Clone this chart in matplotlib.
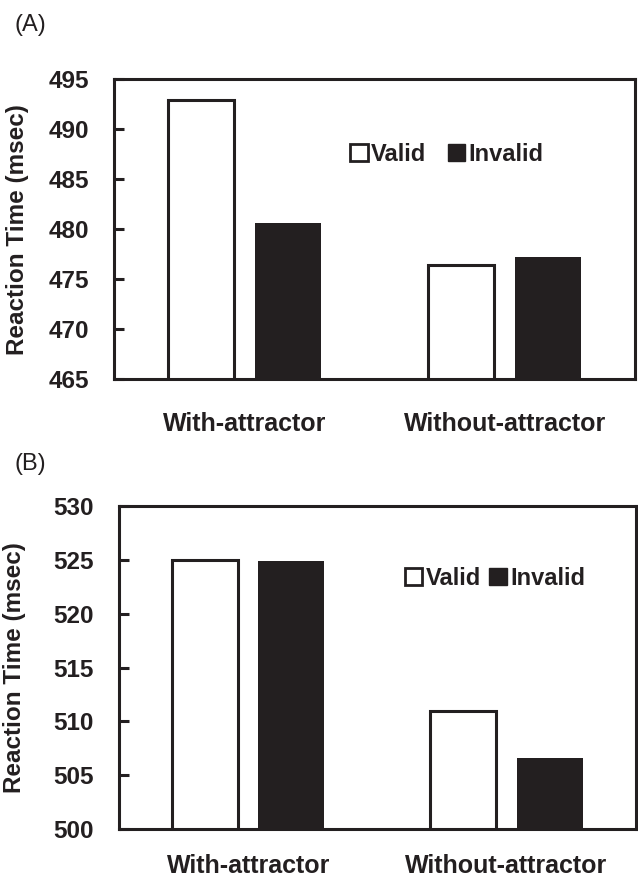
import matplotlib
matplotlib.use("Agg")
import matplotlib.pyplot as plt
import numpy as np
from matplotlib.patches import Patch

# data
condicoes = ["With-attractor", "Without-attractor"]
valid_a = [492.9, 476.4]
invalid_a = [480.6, 477.2]
valid_b = [525.0, 511.0]
invalid_b = [524.9, 506.6]
ticks_a = [465, 470, 475, 480, 485, 490, 495]
ticks_b = [500, 505, 510, 515, 520, 525, 530]

plt.rcParams["font.family"] = ["Liberation Sans", "DejaVu Sans"]
preto = "#231f20"

fig = plt.figure(figsize=(6.38, 8.77), dpi=100)


def painel(ax, valid, invalid, ticks, leg_pos, colsp, lab_x, xpad):
    x = np.arange(len(condicoes))
    w = 0.255
    ax.bar(x - 0.167, valid, w, color="white", edgecolor=preto, linewidth=2.2)
    ax.bar(x + 0.167, invalid, w, color=preto, edgecolor=preto, linewidth=0)
    ax.set_xlim(-0.5, 1.5)
    ax.set_ylim(ticks[0], ticks[-1])
    ax.set_yticks(ticks)
    ax.set_yticklabels([str(t) for t in ticks], fontsize=17.5, fontweight="bold", color=preto)
    ax.set_xticks(x)
    ax.set_xticklabels(condicoes, fontsize=18, fontweight="bold", color=preto)
    ax.tick_params(axis="x", length=0, pad=xpad)
    ax.tick_params(axis="y", direction="in", length=7, width=2.2, color=preto, pad=18)
    for s in ax.spines.values():
        s.set_linewidth(2.2)
        s.set_color(preto)
    ax.set_ylabel("Reaction Time (msec)", fontsize=17.5, fontweight="bold", color=preto)
    ax.yaxis.set_label_coords(lab_x, 0.5)
    handles = [Patch(facecolor="white", edgecolor=preto, linewidth=2.0),
               Patch(facecolor=preto, edgecolor=preto)]
    ax.legend(handles, ["Valid", "Invalid"], ncol=2, frameon=False,
              loc="center left", bbox_to_anchor=leg_pos, borderpad=0,
              handlelength=0.75, handleheight=0.75, handletextpad=0.15,
              columnspacing=colsp, prop={"weight": "bold", "size": 17},
              labelcolor=preto)


ax1 = fig.add_axes([0.1787, 0.5678, 0.8166, 0.342])
painel(ax1, valid_a, invalid_a, ticks_a, (0.43, 0.75), 0.9, -0.163, 24)
fig.text(0.022, 0.971, "(A)", fontsize=17, color=preto, va="center")

ax2 = fig.add_axes([0.1865, 0.0547, 0.810, 0.3683])
painel(ax2, valid_b, invalid_b, ticks_b, (0.53, 0.777), 0.35, -0.18, 18)
fig.text(0.022, 0.471, "(B)", fontsize=17, color=preto, va="center")

fig.savefig("out.png", dpi=100)
